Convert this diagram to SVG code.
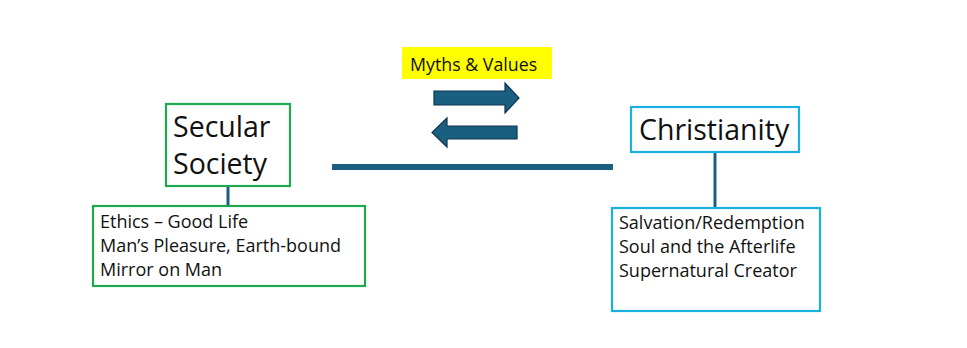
<svg xmlns="http://www.w3.org/2000/svg" width="967" height="348" viewBox="0 0 967 348">
<style>
text{font-family:"Open Sans","Liberation Sans",Arial,sans-serif;fill:#111}
.big{font-size:28.5px}
.sm{font-size:18px}
.g{fill:#fff;stroke:#1fa84f;stroke-width:2.2}
.b{fill:#fff;stroke:#1ab0e2;stroke-width:2.2}
.ln{stroke:#1a5e80;fill:none}
.arr{fill:#1a5e80;stroke:#0e3550;stroke-width:1.2}
</style>
<rect width="967" height="348" fill="#fff"/>
<g id="connectors">
<line class="ln" x1="332" y1="167" x2="613" y2="167" stroke-width="6"/>
<line class="ln" x1="228" y1="186" x2="228" y2="206" stroke-width="3"/>
<line class="ln" x1="715" y1="152" x2="715" y2="208" stroke-width="3"/>
<path class="arr" d="M434,91 H505 V83 L519,98 L505,113 V105 H434 Z"/>
<path class="arr" d="M517,126 H447 V118 L432,132.5 L447,147 V139 H517 Z"/>
</g>
<g id="myths">
<rect x="402" y="47" width="150" height="32" fill="#ffff00"/>
<text x="410" y="71" font-size="17.8">Myths &amp; Values</text>
</g>
<g id="secular">
<rect class="g" x="166" y="104" width="124" height="82"/>
<text class="big" x="173" y="137">Secular</text>
<text class="big" x="173" y="174">Society</text>
</g>
<g id="secular-details">
<rect class="g" x="93" y="206" width="272" height="80"/>
<text class="sm" x="100" y="228">Ethics – Good Life</text>
<text class="sm" x="100" y="252">Man’s Pleasure, Earth-bound</text>
<text class="sm" x="100" y="276">Mirror on Man</text>
</g>
<g id="christianity">
<rect class="b" x="631" y="107" width="168" height="45"/>
<text class="big" x="639" y="140">Christianity</text>
</g>
<g id="christianity-details">
<rect class="b" x="612" y="208" width="208" height="103"/>
<text class="sm" x="619" y="229">Salvation/Redemption</text>
<text class="sm" x="619" y="253">Soul and the Afterlife</text>
<text class="sm" x="619" y="277">Supernatural Creator</text>
</g>
</svg>
